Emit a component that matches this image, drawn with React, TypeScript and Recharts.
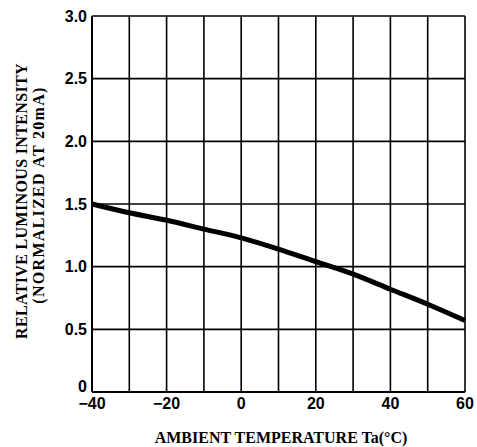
import React from 'react';
import { LineChart, Line, XAxis, YAxis, CartesianGrid } from 'recharts';

const temperature = [-40, -30, -20, -10, 0, 10, 20, 30, 40, 50, 60];
const intensity = [1.5, 1.43, 1.37, 1.3, 1.23, 1.14, 1.04, 0.94, 0.82, 0.7, 0.57];
const xTicks = [-40, -30, -20, -10, 0, 10, 20, 30, 40, 50, 60];
const yTicks = [0, 0.5, 1.0, 1.5, 2.0, 2.5, 3.0];

const data = temperature.map((t, i) => ({ t, v: intensity[i] }));

const sans = 'Liberation Sans, Arial, sans-serif';
const titleFont = 'Liberation Serif, serif';
const tickFont = { fontFamily: sans, fontWeight: 700, fontSize: 16, fill: '#000' };

const fmtX = (v: number) => (v % 20 === 0 ? (v < 0 ? '\u2212' + Math.abs(v) : String(v)) : '');
const fmtY = (v: number) => (v === 0 ? '0' : v.toFixed(1));

// y tick: the "0" sits a little above the axis so it clears "−40"
const YTick = (props: any) => {
  const { x, y, payload } = props;
  const v = payload.value as number;
  return (
    <text x={x} y={v === 0 ? y - 6 : y} dy="0.36em" textAnchor="end" fontFamily={sans} fontWeight={700} fontSize={16} fill="#000">
      {fmtY(v)}
    </text>
  );
};

const YTitle = () => (
  <g>
    <text transform="translate(27,201) rotate(-90)" textAnchor="middle" fontFamily={titleFont} fontWeight={700} fontSize={16} letterSpacing={0.35} fill="#000">
      RELATIVE LUMINOUS INTENSITY
    </text>
    <text transform="translate(44,195) rotate(-90)" textAnchor="middle" fontFamily={titleFont} fontWeight={700} fontSize={16} letterSpacing={1.3} fill="#000">
      (NORMALIZED AT 20mA)
    </text>
  </g>
);

const XTitle = () => (
  <text x={281} y={443} textAnchor="middle" fontFamily={titleFont} fontWeight={700} fontSize={16} fill="#000">
    AMBIENT TEMPERATURE Ta(°C)
  </text>
);

export default function App() {
  return (
    <div style={{ position: 'absolute', left: 0, top: 0, width: 477, height: 447, background: '#fff' }}>
      <LineChart width={477} height={447} data={data} margin={{ top: 16, right: 12, left: 0, bottom: 0 }}>
        <CartesianGrid stroke="#000" strokeWidth={1.6} horizontalValues={yTicks} verticalValues={xTicks} />
        <XAxis
          dataKey="t"
          type="number"
          domain={[-40, 60]}
          ticks={xTicks}
          interval={0}
          tickFormatter={fmtX}
          tick={tickFont}
          tickLine={false}
          tickSize={3}
          tickMargin={3}
          axisLine={{ stroke: '#000', strokeWidth: 2 }}
          height={55}
          label={<XTitle />}
        />
        <YAxis
          type="number"
          domain={[0, 3]}
          ticks={yTicks}
          interval={0}
          tick={<YTick />}
          tickLine={false}
          tickSize={1}
          tickMargin={4}
          axisLine={{ stroke: '#000', strokeWidth: 2 }}
          width={92}
          label={<YTitle />}
        />
        <Line type="monotone" dataKey="v" stroke="#000" strokeWidth={5} dot={false} isAnimationActive={false} />
      </LineChart>
    </div>
  );
}
